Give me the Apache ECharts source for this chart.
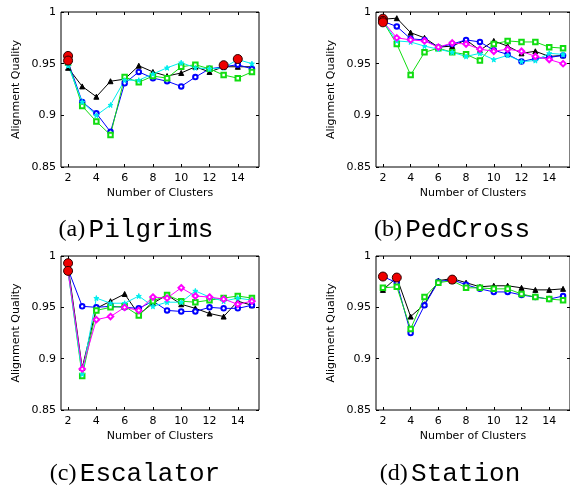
<!DOCTYPE html>
<html><head><meta charset="utf-8">
<script src="https://cdn.jsdelivr.net/npm/echarts@6/dist/echarts.min.js"></script>
<style>html,body{margin:0;padding:0;background:#fff}#c{width:570px;height:486px}</style>
</head><body><div id="c"></div>
<script>
const clusters = [2,3,4,5,6,7,8,9,10,11,12,13,14,15];
const xTickValues = [2,4,6,8,10,12,14];
const yAxisName = 'Alignment Quality';
const xAxisName = 'Number of Clusters';

// (a) Pilgrims
const pilBlack = [0.946,0.928,0.918,0.933,0.935,0.948,0.942,0.938,0.941,0.947,0.942,0.947,0.947,0.947];
const pilBlue  = [0.952,0.913,0.902,0.884,0.931,0.942,0.936,0.933,0.928,0.937,0.945,0.947,0.949,0.945];
const pilGreen = [0.951,0.909,0.894,0.881,0.937,0.932,0.938,0.936,0.947,0.949,0.945,0.939,0.936,0.942];
const pilCyan  = [0.948,0.913,0.900,0.910,0.934,0.934,0.940,0.946,0.951,0.946,0.945,0.946,0.954,0.950];
const pilBest  = [[2,0.9575],[2,0.953],[13,0.9485],[14,0.9545]];

// (b) PedCross
const pedBlack   = [0.993,0.994,0.980,0.975,0.966,0.967,0.973,0.963,0.972,0.967,0.960,0.962,0.957,0.958];
const pedBlue    = [0.991,0.986,0.974,0.973,0.966,0.969,0.973,0.971,0.963,0.959,0.952,0.955,0.956,0.958];
const pedGreen   = [0.991,0.969,0.939,0.961,0.965,0.961,0.959,0.953,0.969,0.972,0.971,0.971,0.966,0.965];
const pedCyan    = [0.991,0.972,0.971,0.967,0.964,0.961,0.957,0.960,0.954,0.958,0.952,0.953,0.960,0.959];
const pedMagenta = [0.991,0.975,0.973,0.972,0.966,0.970,0.969,0.964,0.962,0.964,0.962,0.957,0.954,0.950];
const pedBest    = [[2,0.9935],[2,0.9915],[2,0.9900]];

// (c) Escalator
const escBlack   = [0.990,0.891,0.949,0.956,0.963,0.943,0.954,0.962,0.953,0.949,0.944,0.941,0.956,0.952];
const escBlue    = [0.987,0.951,0.950,0.951,0.950,0.949,0.956,0.947,0.946,0.946,0.950,0.949,0.949,0.952];
const escGreen   = [0.985,0.883,0.947,0.950,0.951,0.942,0.956,0.962,0.956,0.955,0.957,0.959,0.961,0.959];
const escCyan    = [0.985,0.885,0.959,0.954,0.954,0.961,0.951,0.955,0.955,0.966,0.960,0.956,0.959,0.957];
const escMagenta = [0.985,0.890,0.938,0.941,0.950,0.947,0.960,0.959,0.969,0.961,0.960,0.958,0.953,0.956];
const escBest    = [[2,0.993],[2,0.9855]];

// (d) Station
const staBlack = [0.967,0.979,0.941,0.953,0.976,0.978,0.974,0.970,0.971,0.971,0.969,0.967,0.967,0.968];
const staBlue  = [0.980,0.974,0.925,0.952,0.975,0.977,0.972,0.968,0.965,0.965,0.962,0.960,0.958,0.961];
const staGreen = [0.969,0.970,0.929,0.960,0.974,0.976,0.969,0.969,0.968,0.968,0.963,0.960,0.958,0.957];
const staBest  = [[2,0.980],[3,0.979],[7,0.977]];

const captions = [['(a)','Pilgrims'],['(b)','PedCross'],['(c)','Escalator'],['(d)','Station']];

const STAR = 'path://M50,0 L61,35 L98,35 L68,57 L79,91 L50,70 L21,91 L32,57 L2,35 L39,35 Z';
const styles = {
  black:   {color:'#000000', symbol:'triangle', size:5},
  blue:    {color:'#0000ff', symbol:'emptyCircle', size:4.5},
  green:   {color:'#11dd11', symbol:'emptyRect', size:4.5},
  cyan:    {color:'#00eeee', symbol:STAR, size:5},
  magenta: {color:'#ff00ff', symbol:'emptyDiamond', size:5.5}
};

const panels = [
  {grid:{left:61, top:12, width:198, height:155}, lines:[['black',pilBlack],['blue',pilBlue],['green',pilGreen],['cyan',pilCyan]], best:pilBest},
  {grid:{left:376, top:12, width:197, height:155}, lines:[['black',pedBlack],['blue',pedBlue],['green',pedGreen],['cyan',pedCyan],['magenta',pedMagenta]], best:pedBest},
  {grid:{left:61, top:256, width:198, height:154}, lines:[['black',escBlack],['blue',escBlue],['green',escGreen],['cyan',escCyan],['magenta',escMagenta]], best:escBest},
  {grid:{left:376, top:256, width:197, height:154}, lines:[['black',staBlack],['blue',staBlue],['green',staGreen]], best:staBest}
];

const FONT = 'DejaVu Sans';
const grids = [], xAxes = [], yAxes = [], series = [];
panels.forEach((p, i) => {
  grids.push(Object.assign({show:true, borderColor:'#000', borderWidth:1, backgroundColor:'#fff'}, p.grid));
  const xb = xAxes.length;
  const common = {type:'value', gridIndex:i, min:1.5, max:15.5,
    axisLine:{show:false}, splitLine:{show:false}};
  xAxes.push(Object.assign({}, common, {position:'bottom',
    name:xAxisName, nameLocation:'middle', nameGap:21,
    nameTextStyle:{fontFamily:FONT, fontSize:11, color:'#000'},
    axisTick:{inside:true, length:3, lineStyle:{color:'#000'}, customValues:xTickValues},
    axisLabel:{fontFamily:FONT, fontSize:11, color:'#000', margin:6, customValues:xTickValues}}));
  xAxes.push(Object.assign({}, common, {position:'top',
    axisTick:{inside:true, length:3, lineStyle:{color:'#000'}, customValues:xTickValues},
    axisLabel:{show:false}}));
  const yb = yAxes.length;
  const yc = {type:'value', gridIndex:i, min:0.85, max:1, interval:0.05,
    axisLine:{show:false}, splitLine:{show:false}};
  yAxes.push(Object.assign({}, yc, {position:'left',
    name:yAxisName, nameLocation:'middle', nameGap:39, nameRotate:90,
    nameTextStyle:{fontFamily:FONT, fontSize:11, color:'#000'},
    axisTick:{inside:true, length:3, lineStyle:{color:'#000'}},
    axisLabel:{fontFamily:FONT, fontSize:11, color:'#000', margin:5}}));
  yAxes.push(Object.assign({}, yc, {position:'right',
    axisTick:{inside:true, length:3, lineStyle:{color:'#000'}},
    axisLabel:{show:false}}));
  p.lines.forEach(([key, vals]) => {
    const s = styles[key];
    series.push({type:'line', xAxisIndex:xb, yAxisIndex:yb,
      data: clusters.map((c, k) => [c, vals[k]]),
      symbol:s.symbol, symbolSize:s.size, showSymbol:true,
      lineStyle:{color:s.color, width:1},
      itemStyle:{color:s.color, borderColor:s.color, borderWidth:1},
      animation:false, silent:true, z:2});
  });
  series.push({type:'scatter', xAxisIndex:xb, yAxisIndex:yb, data:p.best,
    symbol:'circle', symbolSize:9,
    itemStyle:{color:'#ee0000', borderColor:'#300000', borderWidth:1, opacity:1},
    animation:false, silent:true, z:5});
});

const capPos = [[136,230],[452,230],[135,474],[450,474]];
const graphics = captions.map((c, i) => ({
  type:'text', x:capPos[i][0], y:capPos[i][1],
  style:{text:'{s|' + c[0] + '} {m|' + c[1] + '}', textAlign:'center', textVerticalAlign:'middle',
    rich:{s:{fontFamily:'Liberation Serif', fontSize:24, fill:'#000'},
          m:{fontFamily:'Liberation Mono', fontSize:26, fill:'#000'}}}
}));

const chart = echarts.init(document.getElementById('c'), null, {renderer:'canvas'});
chart.setOption({backgroundColor:'#fff', animation:false,
  grid:grids, xAxis:xAxes, yAxis:yAxes, series:series, graphic:graphics});
</script></body></html>
